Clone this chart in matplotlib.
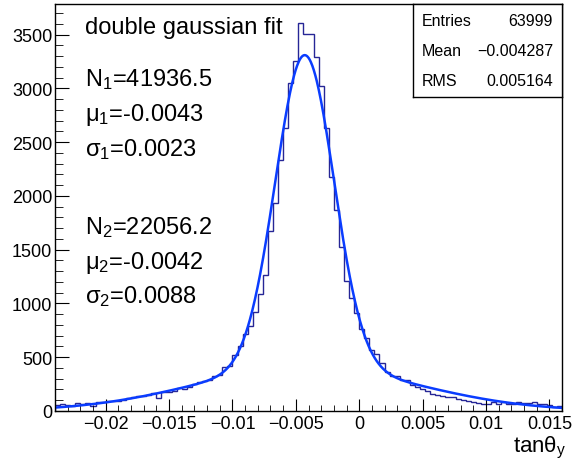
import numpy as np
import matplotlib
matplotlib.use('Agg')
import matplotlib.pyplot as plt
from matplotlib.ticker import MultipleLocator

plt.rcParams['font.family'] = ['Liberation Sans', 'DejaVu Sans']
plt.rcParams['mathtext.fontset'] = 'custom'
plt.rcParams['mathtext.rm'] = 'Liberation Sans'
plt.rcParams['mathtext.it'] = 'Liberation Sans:italic'

# histogramme: 100 bins entre -0.024 et 0.016
x_min, x_max, n_bins = -0.024, 0.016, 100
counts = [56, 65, 56, 50, 71, 65, 74, 50, 81, 87,
          96, 96, 96, 105, 118, 127, 136, 143, 152, 167,
          121, 180, 174, 189, 211, 205, 220, 251, 267, 282,
          288, 323, 335, 406, 415, 521, 607, 716, 793, 924,
          1088, 1265, 1674, 1932, 2337, 2629, 3047, 3258, 3604, 3505,
          3505, 3290, 3022, 2629, 2172, 1869, 1525, 1212, 1048, 908,
          763, 679, 567, 530, 443, 366, 329, 329, 288, 291,
          242, 226, 205, 189, 158, 149, 142, 127, 127, 112,
          105, 96, 81, 74, 65, 65, 81, 65, 81, 65,
          65, 87, 74, 70, 87, 65, 65, 60, 34, 49]

# parametres du fit (double gaussienne)
fit_N = [41936.5, 22056.2]
fit_mu = [-0.0043, -0.0042]
fit_sigma = [0.0023, 0.0088]

stats_labels = ['Entries', 'Mean', 'RMS']
stats_values = ['63999', '\u22120.004287', '0.005164']

x_ticks = [-0.02, -0.015, -0.01, -0.005, 0, 0.005, 0.01, 0.015]
x_tick_labels = ['\u22120.02', '\u22120.015', '\u22120.01', '\u22120.005', '0', '0.005', '0.01', '0.015']
y_ticks = [0, 500, 1000, 1500, 2000, 2500, 3000, 3500]

W, H = 572, 460
fig = plt.figure(figsize=(W / 100, H / 100), dpi=100)
ax = fig.add_axes([55 / W, 1 - 412 / H, (562 - 55) / W, (412 - 5) / H])

edges = np.linspace(x_min, x_max, n_bins + 1)
ax.stairs(counts, edges, color='#262696', lw=1)

bw = edges[1] - edges[0]
xf = np.linspace(x_min, x_max, 1000)
yf = np.zeros_like(xf)
for N, mu, s in zip(fit_N, fit_mu, fit_sigma):
    yf += N * bw / (np.sqrt(2 * np.pi) * s) * np.exp(-0.5 * ((xf - mu) / s) ** 2)
ax.plot(xf, yf, color='#0a3cff', lw=1.8)

ax.set_xlim(x_min, x_max)
ax.set_ylim(0, 3785)
ax.set_xticks(x_ticks)
ax.set_xticklabels(x_tick_labels)
ax.set_yticks(y_ticks)
ax.set_yticklabels([str(v) for v in y_ticks])
ax.xaxis.set_minor_locator(MultipleLocator(0.001))
ax.yaxis.set_minor_locator(MultipleLocator(100))
ax.tick_params(which='both', direction='in', top=False, right=False, labelsize=13)
ax.tick_params(axis='x', which='major', length=8.6, pad=3)
ax.tick_params(axis='x', which='minor', length=4.3)
ax.tick_params(axis='y', which='major', length=10, pad=2)
ax.tick_params(axis='y', which='minor', length=5.5)
for sp in ax.spines.values():
    sp.set_linewidth(1)

def px(x, y):
    return x / W, 1 - y / H

fig.text(*px(85, 28), 'double gaussian fit', fontsize=17, va='center')
left_lines = [(80, 'N$_1$=41936.5'), (115, '\u03bc$_1$=-0.0043'), (150, '\u03c3$_1$=0.0023'),
              (228, 'N$_2$=22056.2'), (263, '\u03bc$_2$=-0.0042'), (297, '\u03c3$_2$=0.0088')]
for y, t in left_lines:
    fig.text(*px(85, y), t, fontsize=17, va='center')

# etiquette de l'axe x
fig.text(*px(566, 448), 'tan\u03b8$_\\mathrm{y}$', fontsize=16, ha='right', va='center')

# boite de stats
sb = fig.add_axes([413 / W, 1 - 98 / H, (562 - 413) / W, (98 - 5) / H])
sb.set_xticks([])
sb.set_yticks([])
for sp in sb.spines.values():
    sp.set_linewidth(1)
for i, (lab, val) in enumerate(zip(stats_labels, stats_values)):
    yy = 1 - (21.7 + 30 * i - 5) / 93
    sb.text(0.06, yy, lab, fontsize=11.5, va='center', transform=sb.transAxes)
    sb.text(0.94, yy, val, fontsize=11.5, va='center', ha='right', transform=sb.transAxes)

fig.savefig('out.png', dpi=100)
